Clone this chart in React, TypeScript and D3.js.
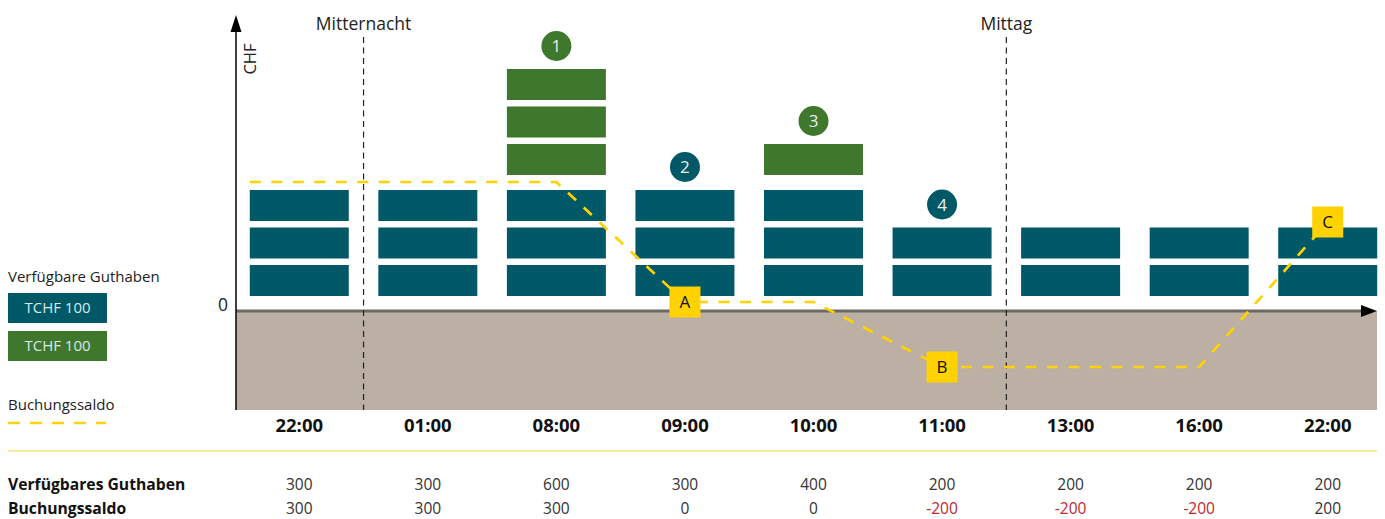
import React from "react";
import * as d3 from "d3";

const columns = ["22:00", "01:00", "08:00", "09:00", "10:00", "11:00", "13:00", "16:00", "22:00"];
const tealBlocks = [3, 3, 3, 3, 3, 2, 2, 2, 2];
const greenBlocks = [0, 0, 3, 0, 1, 0, 0, 0, 0];
const availableBalance = [300, 300, 600, 300, 400, 200, 200, 200, 200];
const bookingBalance = [300, 300, 300, 0, 0, -200, -200, -200, 200];
const stepMarkers = [
  { col: 2, label: "1", kind: "green" },
  { col: 3, label: "2", kind: "teal" },
  { col: 4, label: "3", kind: "green" },
  { col: 5, label: "4", kind: "teal" },
];
const letterMarkers = [
  { col: 3, label: "A" },
  { col: 5, label: "B" },
  { col: 8, label: "C" },
];
const timeMarkers = [
  { after: 0, label: "Mitternacht" },
  { after: 5, label: "Mittag" },
];
const legendBlocks = [
  { kind: "teal", label: "TCHF 100" },
  { kind: "green", label: "TCHF 100" },
];

const W = 1385;
const H = 519;
const FONT = "'Open Sans', 'Noto Sans', sans-serif";
const TEAL = "#015968";
const GREEN = "#3f772d";
const YELLOW = "#ffd200";
const BEIGE = "#bbb0a3";
const TEXT = "#222";

export default function App() {
  const idx = d3.range(columns.length).map(String);
  const x = d3.scaleBand().domain(idx).range([235, 1392]).paddingInner(0.23).paddingOuter(0.115);
  const bw = x.bandwidth();
  const cx = (i: number) => (x(String(i)) as number) + bw / 2;

  // block stack scale (units of 100 CHF)
  const yBlock = d3.scaleLinear().domain([0, 6]).range([296, 296 - 6 * 37.5]);
  const blockH = 31;
  const groupGap = 8.5;

  // booking balance scale (schematic, piecewise)
  const ySaldo = d3.scaleLinear().domain([-200, 0, 300]).range([367, 302, 182]);

  const zeroY = 311;
  const axisX = 236;
  const plotBottom = 410;
  const plotRight = 1377;

  const linePts: [number, number][] = [
    [x("0") as number, ySaldo(bookingBalance[0])],
    ...bookingBalance.map((v, i) => [cx(i), ySaldo(v)] as [number, number]),
  ];
  const line = d3.line();

  const stackTop = (i: number) => {
    const t = tealBlocks[i];
    const g = greenBlocks[i];
    if (g > 0) return yBlock(t + g - 1) - blockH - groupGap;
    return yBlock(t - 1) - blockH;
  };

  return (
    <svg width={W} height={H} style={{ position: "absolute", left: 0, top: 0, fontFamily: FONT }}>
      {/* negative area */}
      <rect x={axisX} y={zeroY} width={plotRight - axisX} height={plotBottom - zeroY} fill={BEIGE} />
      <line x1={axisX} x2={plotRight - 12} y1={zeroY} y2={zeroY} stroke="#6d6a66" strokeWidth={3} />
      <path d={`M${plotRight},${zeroY} L${plotRight - 16},${zeroY - 6} L${plotRight - 16},${zeroY + 6} Z`} fill="#000" />

      {/* y axis */}
      <line x1={axisX} x2={axisX} y1={plotBottom} y2={28} stroke="#000" strokeWidth={1.5} />
      <path d={`M${axisX},15 L${axisX - 5.5},32 L${axisX + 5.5},32 Z`} fill="#000" />
      <text transform={`translate(256,59) rotate(-90)`} textAnchor="middle" fontSize={16.5} fill={TEXT}>
        CHF
      </text>
      <text x={228} y={311} textAnchor="end" fontSize={17.5} fill={TEXT}>
        0
      </text>

      {/* time markers */}
      {timeMarkers.map((m) => {
        const xm = (x(String(m.after)) as number) + bw + (x.step() - bw) / 2;
        return (
          <g key={m.label}>
            <line x1={xm} x2={xm} y1={37} y2={plotBottom} stroke="#222" strokeWidth={1.2} strokeDasharray="6 4.5" />
            <text x={xm} y={30} textAnchor="middle" fontSize={17.5} fill={TEXT}>
              {m.label}
            </text>
          </g>
        );
      })}

      {/* blocks */}
      {columns.map((c, i) => (
        <g key={i}>
          {d3.range(tealBlocks[i]).map((u) => (
            <rect key={"t" + u} x={x(String(i))} y={yBlock(u) - blockH} width={bw} height={blockH} fill={TEAL} />
          ))}
          {d3.range(greenBlocks[i]).map((u) => (
            <rect
              key={"g" + u}
              x={x(String(i))}
              y={yBlock(tealBlocks[i] + u) - blockH - groupGap}
              width={bw}
              height={blockH}
              fill={GREEN}
            />
          ))}
        </g>
      ))}

      {/* step markers */}
      {stepMarkers.map((m) => {
        const cy = stackTop(m.col) - 23;
        return (
          <g key={m.label}>
            <circle cx={cx(m.col)} cy={cy} r={15} fill={m.kind === "green" ? GREEN : TEAL} />
            <text x={cx(m.col)} y={cy + 6} textAnchor="middle" fontSize={17} fill="#e8f0f0">
              {m.label}
            </text>
          </g>
        );
      })}

      {/* booking balance line */}
      <path d={line(linePts) as string} fill="none" stroke={YELLOW} strokeWidth={2.7} strokeDasharray="11 10.5" />

      {letterMarkers.map((m) => {
        const px = cx(m.col);
        const py = ySaldo(bookingBalance[m.col]);
        return (
          <g key={m.label}>
            <rect x={px - 15.5} y={py - 15.5} width={31} height={31} fill={YELLOW} />
            <text x={px} y={py + 6} textAnchor="middle" fontSize={17} fill="#111">
              {m.label}
            </text>
          </g>
        );
      })}

      {/* legend */}
      <text x={8} y={282} fontSize={15} fill={TEXT}>
        Verfügbare Guthaben
      </text>
      {legendBlocks.map((b, i) => (
        <g key={i}>
          <rect x={8} y={293 + i * 38} width={99} height={30} fill={b.kind === "green" ? GREEN : TEAL} />
          <text x={57.5} y={293 + i * 38 + 20} textAnchor="middle" fontSize={15} fill="#dbe7e8">
            {b.label}
          </text>
        </g>
      ))}
      <text x={8} y={410} fontSize={15} fill={TEXT}>
        Buchungssaldo
      </text>
      <line x1={8} x2={106} y1={423} y2={423} stroke={YELLOW} strokeWidth={2.7} strokeDasharray="12 10" />

      {/* x labels */}
      {columns.map((c, i) => (
        <text key={i} x={cx(i)} y={432} textAnchor="middle" fontSize={18.5} fontWeight="bold" fill="#111">
          {c}
        </text>
      ))}

      <line x1={8} x2={plotRight} y1={451} y2={451} stroke="#fae27a" strokeWidth={1.5} />

      {/* table */}
      <text x={8} y={490} fontSize={15.7} fontWeight="bold" fill="#111">
        Verfügbares Guthaben
      </text>
      <text x={8} y={514} fontSize={15.7} fontWeight="bold" fill="#111">
        Buchungssaldo
      </text>
      {availableBalance.map((v, i) => (
        <text key={"a" + i} x={cx(i)} y={490} textAnchor="middle" fontSize={15.5} fill="#333">
          {v}
        </text>
      ))}
      {bookingBalance.map((v, i) => (
        <text key={"b" + i} x={cx(i)} y={514} textAnchor="middle" fontSize={15.5} fill={v < 0 ? "#c0272d" : "#333"}>
          {v}
        </text>
      ))}
    </svg>
  );
}
